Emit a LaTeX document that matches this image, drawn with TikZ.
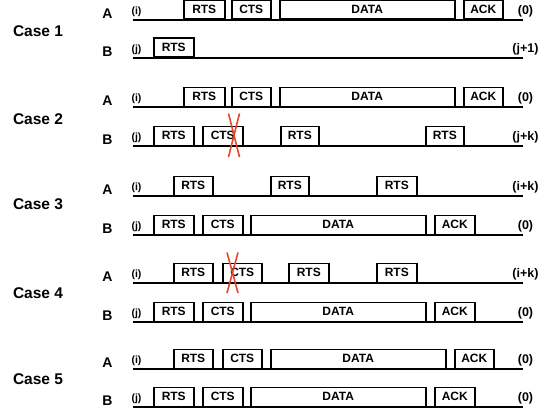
\documentclass[tikz,border=0pt]{standalone}
\usepackage{fontspec}
\setmainfont{Liberation Sans}
\definecolor{xred}{HTML}{E8452C}
\tikzset{
  tl/.style={line width=1.7pt, line cap=rect},
  pkt/.style={draw, line width=1.5pt, minimum height=19pt, inner sep=0pt, anchor=south west,
    font=\bfseries\fontsize{12}{12}\selectfont},
  casel/.style={anchor=base, font=\bfseries\fontsize{15.5}{16}\selectfont},
  rowl/.style={anchor=center, font=\bfseries\fontsize{14}{14}\selectfont},
  idl/.style={anchor=center, font=\bfseries\fontsize{10.5}{11}\selectfont},
  endl/.style={anchor=center, font=\bfseries\fontsize{12.5}{13}\selectfont},
  xmark/.style={draw=xred, line width=1.6pt}
}
\newcommand\pkt[5]{\node[pkt, minimum width={#3-#2}] (#1) at (#2,#4) {#5};}
\newcommand\row[5]{%
  \coordinate (#1s) at (134,#2);
  \coordinate (#1e) at (522,#2);
  \draw[tl] (#1s) -- (#1e);
  \node[rowl] (#1n) at (107.5,#2-6.5) {#3};
  \node[idl] (#1i) at (136.5,#2-8) {#4};
  \node[endl] (#1r) at (525.5,#2-9) {#5};
}
\begin{document}
\begin{tikzpicture}[x=1pt,y=-1pt]
\useasboundingbox (0,0) rectangle (551,412);
% Case 1
\node[casel] (c1) at (38,37) {Case 1};
\row{a1}{20}{A}{(i)}{(0)}
\row{b1}{58}{B}{(j)}{(j+1)}
\pkt{a1r}{183}{224}{20}{RTS}
\pkt{a1c}{231}{270}{20}{CTS}
\pkt{a1d}{279}{454}{20}{DATA}
\pkt{a1k}{463}{502}{20}{ACK}
\pkt{b1r}{153}{193}{58}{RTS}
% Case 2
\node[casel] (c2) at (38,124) {Case 2};
\row{a2}{107}{A}{(i)}{(0)}
\row{b2}{146}{B}{(j)}{(j+k)}
\pkt{a2r}{183}{224}{107}{RTS}
\pkt{a2c}{231}{270}{107}{CTS}
\pkt{a2d}{279}{454}{107}{DATA}
\pkt{a2k}{463}{502}{107}{ACK}
\pkt{b2r}{153}{193}{146}{RTS}
\pkt{b2c}{202}{242}{146}{CTS}
\pkt{b2r2}{280}{318}{146}{RTS}
\pkt{b2r3}{425}{463}{146}{RTS}
\draw[xmark] ([xshift=-15pt,yshift=12pt]b2c.north east) -- ([xshift=-4pt,yshift=-11pt]b2c.south east);
\draw[xmark] ([xshift=-4pt,yshift=12pt]b2c.north east) -- ([xshift=-15pt,yshift=-11pt]b2c.south east);
% Case 3
\node[casel] (c3) at (38,209.5) {Case 3};
\row{a3}{196}{A}{(i)}{(i+k)}
\row{b3}{235}{B}{(j)}{(0)}
\pkt{a3r}{173}{212}{196}{RTS}
\pkt{a3r2}{270}{308}{196}{RTS}
\pkt{a3r3}{376}{416}{196}{RTS}
\pkt{b3r}{153}{193}{235}{RTS}
\pkt{b3c}{202}{242}{235}{CTS}
\pkt{b3d}{250}{425}{235}{DATA}
\pkt{b3k}{434}{474}{235}{ACK}
% Case 4
\node[casel] (c4) at (38,298) {Case 4};
\row{a4}{283}{A}{(i)}{(i+k)}
\row{b4}{322}{B}{(j)}{(0)}
\pkt{a4r}{173}{212}{283}{RTS}
\pkt{a4c}{222}{261}{283}{CTS}
\pkt{a4r2}{288}{328}{283}{RTS}
\pkt{a4r3}{376}{416}{283}{RTS}
\pkt{b4r}{153}{193}{322}{RTS}
\pkt{b4c}{202}{242}{322}{CTS}
\pkt{b4d}{250}{425}{322}{DATA}
\pkt{b4k}{434}{474}{322}{ACK}
\draw[xmark] ([xshift=5pt,yshift=10pt]a4c.north west) -- ([xshift=16pt,yshift=-10pt]a4c.south west);
\draw[xmark] ([xshift=16pt,yshift=10pt]a4c.north west) -- ([xshift=5pt,yshift=-10pt]a4c.south west);
% Case 5
\node[casel] (c5) at (38,384.5) {Case 5};
\row{a5}{369}{A}{(i)}{(0)}
\row{b5}{407}{B}{(j)}{(0)}
\pkt{a5r}{173}{212}{369}{RTS}
\pkt{a5c}{222}{261}{369}{CTS}
\pkt{a5d}{270}{445}{369}{DATA}
\pkt{a5k}{454}{493}{369}{ACK}
\pkt{b5r}{153}{193}{407}{RTS}
\pkt{b5c}{202}{242}{407}{CTS}
\pkt{b5d}{250}{425}{407}{DATA}
\pkt{b5k}{434}{474}{407}{ACK}
\end{tikzpicture}
\end{document}
